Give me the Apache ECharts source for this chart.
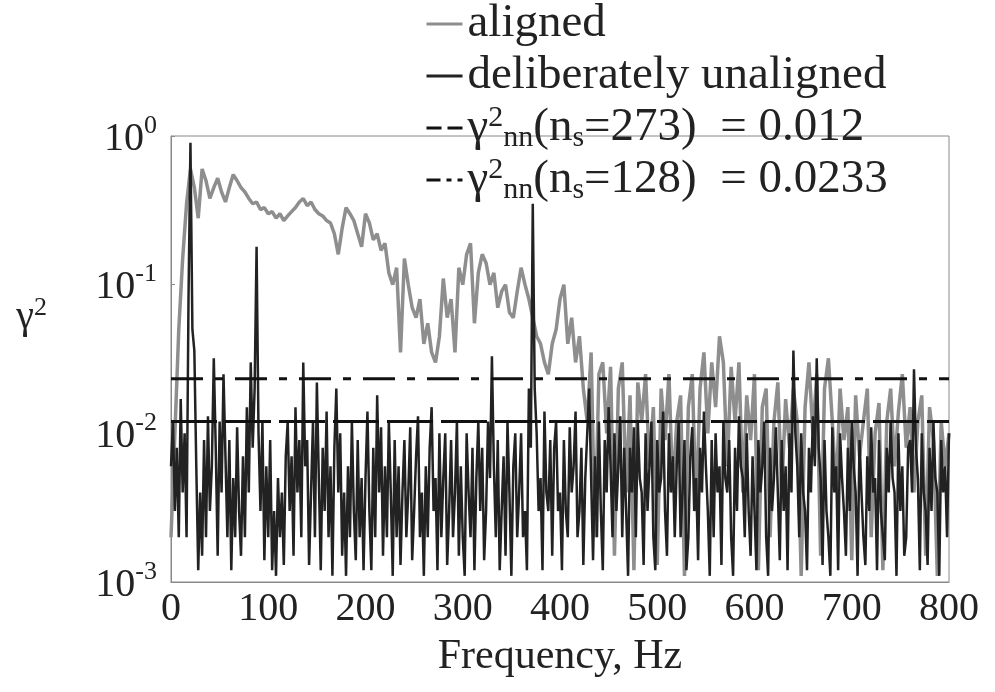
<!DOCTYPE html>
<html>
<head>
<meta charset="utf-8">
<script src="https://cdn.jsdelivr.net/npm/echarts@6/dist/echarts.min.js"></script>
<style>
  html, body { margin: 0; padding: 0; background: #fff; }
  #chart { width: 995px; height: 692px; }
</style>
</head>
<body>
<div id="chart"></div>
<script>
// frequency grid spacing (Hz) of each series, points start at 0 Hz
const alignedStep = 4
const unalignedStep = 2

// coherence, aligned sensors (grey)
const alignedCoh = [
  0.002, 0.01, 0.05, 0.15, 0.35, 0.6, 0.45, 0.28, 0.6, 0.5,
  0.38, 0.45, 0.52, 0.42, 0.36, 0.45, 0.55, 0.5, 0.45, 0.42,
  0.38, 0.35, 0.36, 0.32, 0.33, 0.3, 0.31, 0.28, 0.3, 0.27,
  0.29, 0.31, 0.33, 0.36, 0.38, 0.34, 0.36, 0.32, 0.3, 0.29,
  0.27, 0.26, 0.22, 0.16, 0.24, 0.33, 0.3, 0.27, 0.22, 0.18,
  0.3, 0.26, 0.2, 0.22, 0.17, 0.19, 0.12, 0.1, 0.13, 0.035,
  0.15, 0.1, 0.07, 0.06, 0.08, 0.04, 0.055, 0.035, 0.03, 0.045,
  0.11, 0.06, 0.08, 0.035, 0.13, 0.1, 0.16, 0.19, 0.055, 0.12,
  0.16, 0.14, 0.1, 0.12, 0.07, 0.09, 0.1, 0.065, 0.06, 0.09,
  0.13, 0.1, 0.08, 0.06, 0.045, 0.04, 0.03, 0.025, 0.04, 0.05,
  0.08, 0.1, 0.04, 0.06, 0.03, 0.045, 0.02, 0.012, 0.035, 0.002,
  0.025, 0.03, 0.01, 0.028, 0.0015, 0.02, 0.03, 0.004, 0.018, 0.0012,
  0.022, 0.012, 0.025, 0.006, 0.015, 0.0013, 0.02, 0.009, 0.025, 0.004,
  0.012, 0.018, 0.0011, 0.015, 0.025, 0.003, 0.02, 0.035, 0.01, 0.03,
  0.015, 0.045, 0.03, 0.006, 0.028, 0.012, 0.03, 0.004, 0.018, 0.009,
  0.025, 0.0012, 0.015, 0.02, 0.002, 0.012, 0.022, 0.004, 0.017, 0.008,
  0.02, 0.012, 0.0011, 0.015, 0.03, 0.01, 0.025, 0.0015, 0.02, 0.032,
  0.012, 0.004, 0.02, 0.009, 0.015, 0.0014, 0.018, 0.007, 0.012, 0.02,
  0.002, 0.01, 0.016, 0.0012, 0.012, 0.02, 0.006, 0.014, 0.025, 0.008,
  0.015, 0.004, 0.012, 0.018, 0.0015, 0.015, 0.009, 0.0011, 0.012, 0.006,
  0.01
]

// coherence, deliberately unaligned (black)
const unalignedCoh = [
  0.006, 0.012, 0.003, 0.008, 0.002, 0.017, 0.004, 0.01, 0.002, 0.08, 0.9, 0.05, 0.036, 0.006, 0.0012, 0.004, 0.0015, 0.009, 0.002, 0.013,
  0.003, 0.006, 0.032, 0.008, 0.0015, 0.012, 0.004, 0.025, 0.007, 0.002, 0.009, 0.0012, 0.005, 0.002, 0.011, 0.003, 0.0015, 0.007, 0.002, 0.015,
  0.004, 0.03, 0.008, 0.02, 0.18, 0.01, 0.003, 0.012, 0.0014, 0.006, 0.002, 0.009, 0.0012, 0.003, 0.0011, 0.005, 0.002, 0.004, 0.0013, 0.007,
  0.012, 0.003, 0.007, 0.0015, 0.015, 0.004, 0.009, 0.002, 0.03, 0.006, 0.009, 0.0013, 0.004, 0.012, 0.002, 0.022, 0.005, 0.0012, 0.008, 0.003,
  0.014, 0.002, 0.006, 0.0011, 0.008, 0.02, 0.004, 0.01, 0.0015, 0.004, 0.0011, 0.006, 0.002, 0.012, 0.003, 0.0014, 0.009, 0.002, 0.005, 0.0012,
  0.005, 0.014, 0.003, 0.0012, 0.008, 0.002, 0.018, 0.004, 0.011, 0.0015, 0.006, 0.002, 0.012, 0.004, 0.0011, 0.009, 0.002, 0.006, 0.0013, 0.004,
  0.009, 0.002, 0.004, 0.011, 0.0014, 0.003, 0.007, 0.013, 0.002, 0.004, 0.0011, 0.006, 0.002, 0.008, 0.015, 0.003, 0.005, 0.0012, 0.01, 0.002,
  0.005, 0.01, 0.0013, 0.003, 0.009, 0.002, 0.004, 0.012, 0.0015, 0.006, 0.002, 0.0011, 0.01, 0.004, 0.002, 0.008, 0.0012, 0.005, 0.012, 0.003,
  0.008, 0.0014, 0.003, 0.012, 0.005, 0.033, 0.006, 0.002, 0.009, 0.0012, 0.003, 0.007, 0.0015, 0.012, 0.004, 0.0011, 0.006, 0.01, 0.002, 0.004,
  0.01, 0.002, 0.003, 0.0012, 0.02, 0.008, 0.35, 0.02, 0.01, 0.003, 0.005, 0.0012, 0.014, 0.004, 0.003, 0.009, 0.0015, 0.008, 0.012, 0.003,
  0.004, 0.0012, 0.009, 0.003, 0.002, 0.011, 0.004, 0.006, 0.014, 0.002, 0.003, 0.008, 0.0013, 0.005, 0.01, 0.02, 0.005, 0.0014, 0.007, 0.002,
  0.012, 0.003, 0.0012, 0.009, 0.004, 0.015, 0.006, 0.002, 0.01, 0.003, 0.006, 0.013, 0.002, 0.008, 0.003, 0.0011, 0.008, 0.004, 0.011, 0.002,
  0.012, 0.005, 0.004, 0.0013, 0.01, 0.003, 0.006, 0.012, 0.002, 0.0012, 0.009, 0.004, 0.005, 0.014, 0.003, 0.0015, 0.01, 0.004, 0.007, 0.002,
  0.006, 0.012, 0.002, 0.004, 0.009, 0.0012, 0.002, 0.007, 0.011, 0.003, 0.005, 0.0014, 0.008, 0.004, 0.014, 0.006, 0.003, 0.0011, 0.009, 0.002,
  0.01, 0.004, 0.006, 0.0013, 0.012, 0.005, 0.004, 0.009, 0.002, 0.0011, 0.008, 0.003, 0.013, 0.006, 0.005, 0.002, 0.01, 0.003, 0.0015, 0.007,
  0.003, 0.0012, 0.009, 0.004, 0.006, 0.012, 0.002, 0.0011, 0.008, 0.003, 0.005, 0.011, 0.004, 0.0014, 0.009, 0.003, 0.006, 0.0012, 0.01, 0.004,
  0.036, 0.01, 0.006, 0.002, 0.01, 0.004, 0.003, 0.0012, 0.008, 0.004, 0.013, 0.006, 0.032, 0.008, 0.005, 0.0013, 0.009, 0.003, 0.002, 0.0011,
  0.011, 0.004, 0.006, 0.0012, 0.01, 0.005, 0.003, 0.0015, 0.008, 0.003, 0.012, 0.006, 0.004, 0.0011, 0.009, 0.004, 0.002, 0.0013, 0.007, 0.003,
  0.011, 0.004, 0.005, 0.0012, 0.009, 0.003, 0.003, 0.0014, 0.008, 0.004, 0.012, 0.005, 0.004, 0.0011, 0.01, 0.003, 0.006, 0.0015, 0.002, 0.008,
  0.009, 0.004, 0.027, 0.008, 0.005, 0.0012, 0.01, 0.004, 0.003, 0.0013, 0.008, 0.003, 0.012, 0.005, 0.004, 0.0011, 0.009, 0.004, 0.006, 0.002,
  0.01
]

// noise-floor thresholds
const threshNames = ['nn273', 'nn128']
const threshValues = [0.012, 0.0233]
const freqRange = [0, 800]

const serif = 'Liberation Serif'
const ink = '#222'

const toPairs = (arr, step) => arr.map((v, i) => [i * step, v])
const flatLine = v => [[freqRange[0], v], [freqRange[1], v]]

const chart = echarts.init(document.getElementById('chart'))

chart.setOption({
  animation: false,
  grid: { left: 171, right: 46, top: 136, bottom: 110, show: true, borderColor: '#888', borderWidth: 1 },
  legend: {
    orient: 'vertical',
    left: 420,
    top: -6,
    itemWidth: 36,
    itemHeight: 12,
    itemGap: 2,
    itemStyle: { color: 'transparent', borderColor: 'transparent', borderWidth: 0 },
    data: [
      { name: 'aligned', lineStyle: { width: 3 } },
      { name: 'deliberately unaligned', lineStyle: { width: 3 } },
      { name: 'nn273', lineStyle: { width: 3, type: [15, 6] } },
      { name: 'nn128', lineStyle: { width: 3, type: [14, 6, 5, 6] } }
    ],
    formatter: name => {
      if (name === 'nn273') return '{g|γ}{sup|2}{sub|nn}{t|(n}{sub|s}{t|=273)  = 0.012}'
      if (name === 'nn128') return '{g|γ}{sup|2}{sub|nn}{t|(n}{sub|s}{t|=128)  = 0.0233}'
      return name
    },
    textStyle: {
      fontFamily: serif, fontSize: 47, color: ink, lineHeight: 50,
      rich: {
        t: { fontFamily: serif, fontSize: 47, color: ink, lineHeight: 50 },
        g: { fontFamily: serif, fontSize: 47, color: ink, lineHeight: 50 },
        sup: { fontFamily: serif, fontSize: 30, color: ink, verticalAlign: 'top', lineHeight: 50 },
        sub: { fontFamily: serif, fontSize: 30, color: ink, verticalAlign: 'bottom', lineHeight: 50 }
      }
    }
  },
  xAxis: {
    type: 'value',
    min: freqRange[0],
    max: freqRange[1],
    interval: 100,
    name: 'Frequency, Hz',
    nameLocation: 'middle',
    nameGap: 54,
    nameTextStyle: { fontFamily: serif, fontSize: 42, color: ink },
    axisLine: { show: true, lineStyle: { color: '#888' } },
    axisTick: { show: false },
    splitLine: { show: false },
    axisLabel: { fontFamily: serif, fontSize: 40, color: ink, margin: 7 }
  },
  yAxis: {
    type: 'log',
    logBase: 10,
    min: 0.001,
    max: 1,
    name: '{g|γ}{sup|2}',
    nameLocation: 'middle',
    nameRotate: 0,
    nameGap: 124,
    nameTextStyle: {
      padding: [0, 0, 84, 0],
      rich: {
        g: { fontFamily: serif, fontSize: 40, color: ink, lineHeight: 44 },
        sup: { fontFamily: serif, fontSize: 26, color: ink, verticalAlign: 'top', lineHeight: 44 }
      }
    },
    axisLine: { show: true, lineStyle: { color: '#888' } },
    axisTick: { show: true, inside: true, length: 4, lineStyle: { color: '#888' } },
    splitLine: { show: false },
    axisLabel: {
      margin: 14,
      formatter: v => '{b|10}{s|' + Math.round(Math.log10(v)) + '}',
      rich: {
        b: { fontFamily: serif, fontSize: 40, color: ink, lineHeight: 46, verticalAlign: 'bottom' },
        s: { fontFamily: serif, fontSize: 26, color: ink, lineHeight: 46, verticalAlign: 'top' }
      }
    }
  },
  series: [
    {
      name: 'aligned',
      type: 'line',
      symbol: 'none',
      data: toPairs(alignedCoh, alignedStep),
      lineStyle: { color: '#8e8e8e', width: 3.5 },
      itemStyle: { color: '#8e8e8e' },
      z: 2
    },
    {
      name: 'deliberately unaligned',
      type: 'line',
      symbol: 'none',
      data: toPairs(unalignedCoh, unalignedStep),
      lineStyle: { color: '#222', width: 2.5 },
      itemStyle: { color: '#222' },
      z: 3
    },
    {
      name: threshNames[0],
      type: 'line',
      symbol: 'none',
      data: flatLine(threshValues[0]),
      lineStyle: { color: '#111', width: 3, type: [46, 8] },
      itemStyle: { color: '#111' },
      z: 4
    },
    {
      name: threshNames[1],
      type: 'line',
      symbol: 'none',
      data: flatLine(threshValues[1]),
      lineStyle: { color: '#111', width: 3, type: [32, 12, 8, 12] },
      itemStyle: { color: '#111' },
      z: 4
    }
  ]
})
</script>
</body>
</html>
